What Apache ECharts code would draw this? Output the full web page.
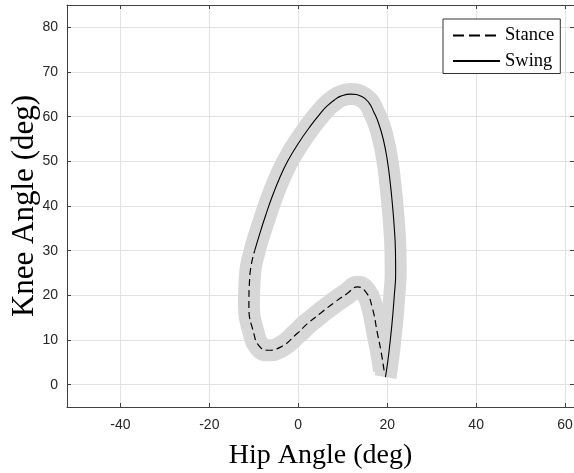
<!DOCTYPE html>
<html>
<head>
<meta charset="utf-8">
<script src="https://cdn.jsdelivr.net/npm/echarts@6/dist/echarts.min.js"></script>
<style>html,body{margin:0;padding:0;background:#fff;}#c{width:574px;height:473px;}</style>
</head>
<body>
<div id="c"></div>
<script>
// Stance phase (dashed): hip angle, knee angle (deg)
var stanceHip  = [19.3, 18.6, 17.8, 16.6, 15.3, 13.3, 11.0, 8.0, 5.0, 2.0, -0.2, -4.0, -7.0, -8.9, -10.0, -11.1, -10.9, -9.8];
var stanceKnee = [3.2, 7.5, 11.5, 17.4, 20.6, 21.9, 20.4, 18.3, 16.0, 13.6, 11.5, 8.4, 7.7, 8.8, 11.5, 17.4, 24.2, 30.0];
// Swing phase (solid)
var swingHip  = [-9.8, -8.6, -7.3, -5.9, -4.3, -2.4, 0.0, 2.8, 5.2, 6.5, 8.2, 9.6, 11.8, 14.3, 15.9, 17.0, 18.0, 19.1, 20.0, 20.7, 21.2, 21.6, 21.85, 21.9, 21.6, 21.2, 20.7, 20.1, 19.6];
var swingKnee = [30.0, 34.0, 38.0, 42.0, 46.0, 50.0, 54.0, 58.0, 61.0, 62.4, 63.8, 64.6, 65.05, 64.5, 63.1, 61.0, 58.7, 55.0, 50.4, 45.0, 40.0, 35.0, 30.0, 25.0, 20.0, 15.0, 10.0, 5.0, 1.7];
var xTicks = [-40, -20, 0, 20, 40, 60];
var yTicks = [0, 10, 20, 30, 40, 50, 60, 70, 80];

function pairs(a, b) { return a.map(function (v, i) { return [v, b[i]]; }); }
var stance = pairs(stanceHip, stanceKnee);
var swing = pairs(swingHip, swingKnee);
var band = stance.concat(swing.slice(1));

var tickFont = {color: '#262626', fontSize: 14, fontFamily: 'Liberation Sans, Arial, sans-serif'};
var axisLineStyle = {color: '#404040', width: 1};
var chart = echarts.init(document.getElementById('c'), null, {renderer: 'canvas'});
chart.setOption({
  animation: false,
  backgroundColor: '#fff',
  grid: {left: 67, right: 0, top: 5, bottom: 66, containLabel: false, outerBoundsMode: 'none'},
  legend: {
    data: [{name: 'Stance', lineStyle: {type: [11, 5]}}, {name: 'Swing'}],
    orient: 'vertical',
    left: 443, top: 19,
    itemWidth: 47, itemHeight: 14, itemGap: 6.5,
    padding: [7, 6, 3, 9],
    borderColor: '#333', borderWidth: 1, borderRadius: 0,
    backgroundColor: '#fff',
    itemStyle: {opacity: 0},
    textStyle: {fontFamily: 'Liberation Serif, Times New Roman, serif', fontSize: 18.5, color: '#000'}
  },
  xAxis: [{
    type: 'value', min: -52, max: 62,
    axisLabel: Object.assign({margin: 11, customValues: xTicks}, tickFont),
    name: 'Hip Angle (deg)', nameLocation: 'middle', nameGap: 35,
    nameTextStyle: {fontFamily: 'Liberation Serif, Times New Roman, serif', fontSize: 28, color: '#000'},
    axisLine: {show: true, onZero: false, lineStyle: axisLineStyle},
    axisTick: {show: true, inside: true, length: 4, lineStyle: axisLineStyle, customValues: xTicks},
    splitLine: {show: true, lineStyle: {color: '#e2e2e2', width: 1}}
  }, {
    type: 'value', min: -52, max: 62, position: 'top',
    axisLabel: {show: false},
    axisLine: {show: true, onZero: false, lineStyle: axisLineStyle},
    axisTick: {show: true, inside: true, length: 4, lineStyle: axisLineStyle, customValues: xTicks},
    splitLine: {show: false}
  }],
  yAxis: [{
    type: 'value', min: -5, max: 85,
    axisLabel: Object.assign({margin: 9, customValues: yTicks}, tickFont),
    name: 'Knee Angle (deg)', nameLocation: 'middle', nameGap: 26.5, nameRotate: 90, nameMoveOverlap: false,
    nameTextStyle: {fontFamily: 'Liberation Serif, Times New Roman, serif', fontSize: 31, color: '#000'},
    axisLine: {show: true, onZero: false, lineStyle: axisLineStyle},
    axisTick: {show: true, inside: true, length: 4, lineStyle: axisLineStyle, customValues: yTicks},
    splitLine: {show: true, lineStyle: {color: '#e2e2e2', width: 1}}
  }, {
    type: 'value', min: -5, max: 85, position: 'right',
    axisLabel: {show: false},
    axisLine: {show: true, onZero: false, lineStyle: axisLineStyle},
    axisTick: {show: true, inside: true, length: 4, lineStyle: axisLineStyle, customValues: yTicks},
    splitLine: {show: false}
  }],
  series: [{
    name: 'band', type: 'line', data: band, smooth: 0.5, symbol: 'none', silent: true, z: 1,
    lineStyle: {color: '#d7d7d7', width: 22, cap: 'butt', join: 'round'}
  }, {
    name: 'Stance', type: 'line', data: stance, smooth: 0.5, symbol: 'none', z: 3,
    itemStyle: {color: '#000'},
    lineStyle: {color: '#000', width: 1.2, type: [7, 4]}
  }, {
    name: 'Swing', type: 'line', data: swing, smooth: 0.5, symbol: 'none', z: 3,
    itemStyle: {color: '#000'},
    lineStyle: {color: '#000', width: 1.1, type: 'solid'}
  }]
});
</script>
</body>
</html>
